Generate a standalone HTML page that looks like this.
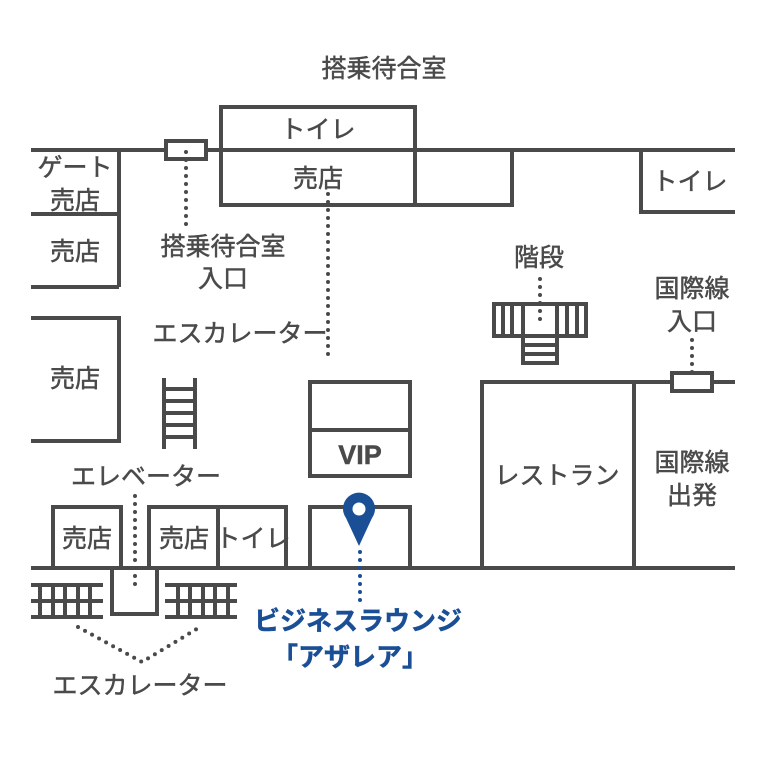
<!DOCTYPE html>
<html><head><meta charset="utf-8"><style>
html,body{margin:0;padding:0;background:#fff}
svg{display:block}
text{font-family:"Liberation Sans","Noto Sans CJK JP",sans-serif;fill:#4a4a4a;font-size:25px;text-anchor:middle;stroke:#4a4a4a;stroke-width:0.5}
</style></head><body>
<svg width="768" height="768" viewBox="0 0 768 768" xmlns="http://www.w3.org/2000/svg">
<g fill="none" stroke="#4a4a4a" stroke-width="4">
<line x1="31" y1="150" x2="166" y2="150"/>
<line x1="206" y1="150" x2="220" y2="150"/>
<rect x="166" y="141" width="40" height="18"/>
<rect x="221" y="107" width="194" height="98"/>
<line x1="221" y1="150" x2="735" y2="150"/>
<rect x="415" y="150" width="97" height="55"/>
<polyline points="641,150 641,212 735,212"/>
<line x1="119" y1="150" x2="119" y2="287"/>
<line x1="31" y1="214" x2="119" y2="214"/>
<line x1="31" y1="287" x2="119" y2="287"/>
<polyline points="31,318 119,318 119,441 31,441"/>
<line x1="164" y1="378" x2="164" y2="449"/>
<line x1="195" y1="378" x2="195" y2="449"/>
<line x1="164" y1="389" x2="195" y2="389"/>
<line x1="164" y1="401" x2="195" y2="401"/>
<line x1="164" y1="413" x2="195" y2="413"/>
<line x1="164" y1="425" x2="195" y2="425"/>
<line x1="164" y1="437" x2="195" y2="437"/>
<rect x="310" y="382" width="100" height="94"/>
<line x1="310" y1="430" x2="410" y2="430"/>
<polyline points="310,568 310,507 410,507 410,568"/>
<line x1="31" y1="568" x2="735" y2="568"/>
<polyline points="53,568 53,507 121,507 121,568"/>
<polyline points="149,568 149,507 286,507 286,568"/>
<line x1="218" y1="507" x2="218" y2="568"/>
<polyline points="112,568 112,614 157,614 157,568"/>
<line x1="31" y1="585" x2="103" y2="585"/>
<line x1="31" y1="601" x2="103" y2="601"/>
<line x1="31" y1="617" x2="103" y2="617"/>
<line x1="40" y1="585" x2="40" y2="617"/>
<line x1="53" y1="585" x2="53" y2="617"/>
<line x1="65" y1="585" x2="65" y2="617"/>
<line x1="78" y1="585" x2="78" y2="617"/>
<line x1="90" y1="585" x2="90" y2="617"/>
<line x1="165" y1="585" x2="237" y2="585"/>
<line x1="165" y1="601" x2="237" y2="601"/>
<line x1="165" y1="617" x2="237" y2="617"/>
<line x1="178" y1="585" x2="178" y2="617"/>
<line x1="190" y1="585" x2="190" y2="617"/>
<line x1="203" y1="585" x2="203" y2="617"/>
<line x1="215" y1="585" x2="215" y2="617"/>
<line x1="228" y1="585" x2="228" y2="617"/>
<polyline points="482,568 482,382 671,382"/>
<line x1="712" y1="382" x2="735" y2="382"/>
<rect x="672" y="373" width="40" height="18"/>
<line x1="634" y1="382" x2="634" y2="568"/>
<rect x="494" y="304" width="92" height="32"/>
<line x1="523" y1="304" x2="523" y2="336"/>
<line x1="557" y1="304" x2="557" y2="336"/>
<line x1="503" y1="304" x2="503" y2="336"/>
<line x1="512" y1="304" x2="512" y2="336"/>
<line x1="567" y1="304" x2="567" y2="336"/>
<line x1="577" y1="304" x2="577" y2="336"/>
<polyline points="523,336 523,363 557,363 557,336"/>
<line x1="523" y1="345" x2="557" y2="345"/>
<line x1="523" y1="354" x2="557" y2="354"/>
</g>
<g fill="none" stroke="#4a4a4a" stroke-width="4" stroke-linecap="round" stroke-dasharray="0 8">
<line x1="186" y1="152" x2="186" y2="226"/>
<line x1="328" y1="194" x2="328" y2="356"/>
<line x1="540" y1="279" x2="540" y2="322"/>
<line x1="692" y1="340" x2="692" y2="380"/>
<line x1="135" y1="496" x2="135" y2="592"/>
<polyline points="78,627 142,662 200,627"/>
</g>
<line x1="360" y1="552" x2="360" y2="604" stroke="#1a4f96" stroke-width="4" stroke-linecap="round" stroke-dasharray="0 8"/>
<path d="M359,546 L346,518 A16,16 0 1 1 372,518 Z" fill="#1a4f96"/>
<circle cx="359" cy="509" r="6.5" fill="#fff"/>
<text x="384" y="77">搭乗待合室</text>
<text x="318" y="138">トイレ</text>
<text x="318" y="187">売店</text>
<text x="75" y="176">ゲート</text>
<text x="75" y="209">売店</text>
<text x="75" y="260">売店</text>
<text x="75" y="387">売店</text>
<text x="223" y="255">搭乗待合室</text>
<text x="223" y="287">入口</text>
<text x="240" y="342">エスカレーター</text>
<text x="690" y="190">トイレ</text>
<text x="539" y="266">階段</text>
<text x="692" y="297">国際線</text>
<text x="692" y="330">入口</text>
<text x="557" y="484">レストラン</text>
<text x="692" y="471">国際線</text>
<text x="692" y="504">出発</text>
<text x="360" y="464" style="font-weight:bold;font-size:27px">VIP</text>
<text x="146" y="485">エレベーター</text>
<text x="87" y="547">売店</text>
<text x="184" y="547">売店</text>
<text x="253" y="547">トイレ</text>
<text x="140" y="694">エスカレーター</text>
<text x="358" y="630" style="fill:#1a4f96;stroke:#1a4f96;font-weight:bold;font-size:26px">ビジネスラウンジ</text>
<text x="350" y="666" style="fill:#1a4f96;stroke:#1a4f96;font-weight:bold;font-size:26px">「アザレア」</text>
</svg>
</body></html>
